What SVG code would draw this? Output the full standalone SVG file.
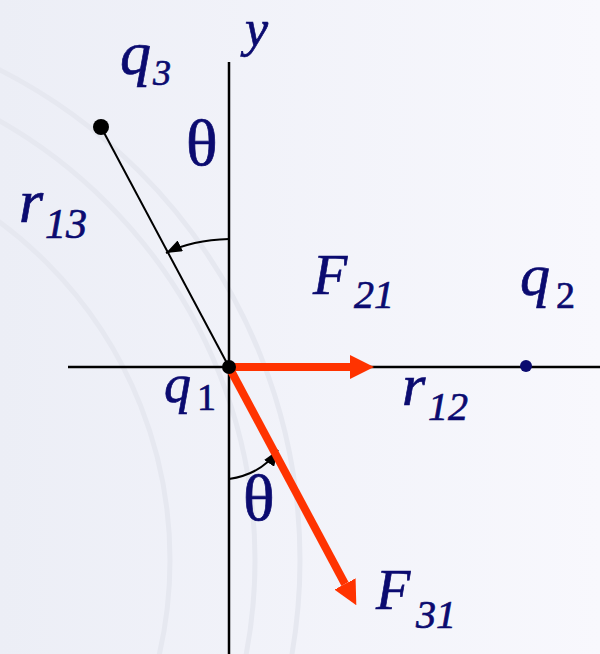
<svg xmlns="http://www.w3.org/2000/svg" width="600" height="654" viewBox="0 0 600 654">
  <defs>
    <linearGradient id="bg" x1="0" y1="0" x2="1" y2="0">
      <stop offset="0" stop-color="#eceef6"/>
      <stop offset="1" stop-color="#f8f8fd"/>
    </linearGradient>
    <marker id="blk" markerUnits="userSpaceOnUse" viewBox="0 0 16 12" markerWidth="16" markerHeight="12" refX="16" refY="6" orient="auto">
      <path d="M0,0 L16,6 L0,12 z" fill="#000"/>
    </marker>
    <marker id="red" markerUnits="userSpaceOnUse" viewBox="0 0 24 24" markerWidth="24" markerHeight="24" refX="0" refY="12" orient="auto">
      <path d="M0,0 L24,12 L0,24 z" fill="#ff3300"/>
    </marker>
  </defs>
  <style>
    .lbl { font-family: "Liberation Serif", "Times New Roman", serif; fill: #0b0b70; stroke: #0b0b70; stroke-width: 0.7; }
    .it { font-style: italic; }
    .ax { stroke: #000; stroke-width: 2.5; fill: none; }
    .thin { stroke: #000; stroke-width: 2; fill: none; }
    .force { stroke: #ff3300; stroke-width: 8; fill: none; }
    .wm { fill: none; stroke: #e6e8f0; stroke-width: 5; }
  </style>
  <rect x="0" y="0" width="600" height="654" fill="url(#bg)"/>
  <g id="watermark">
    <circle class="wm" cx="-250" cy="560" r="550"/>
    <circle class="wm" cx="-250" cy="560" r="505" stroke-width="3"/>
    <circle class="wm" cx="-250" cy="560" r="420" stroke-width="3"/>
  </g>
  <g id="connectors">
    <line class="ax" x1="229" y1="62" x2="229" y2="654"/>
    <line class="ax" x1="68" y1="367" x2="600" y2="367"/>
    <line class="thin" x1="101" y1="127" x2="229" y2="367"/>
    <path class="thin" d="M229,239 Q192,240 166,253" marker-end="url(#blk)"/>
    <path class="thin" d="M229,479 Q262,474 278,450" marker-end="url(#blk)"/>
    <line class="force" x1="229" y1="367" x2="350" y2="367" marker-end="url(#red)"/>
    <line class="force" x1="229" y1="367" x2="345" y2="584" marker-end="url(#red)"/>
  </g>
  <g id="q1"><circle cx="229" cy="367" r="7" fill="#000"/>
    <text class="lbl it" x="164" y="402" font-size="54">q</text><text class="lbl" x="197" y="410" font-size="38">1</text></g>
  <g id="q3"><circle cx="101" cy="127" r="8" fill="#000"/>
    <text class="lbl it" x="120" y="74" font-size="62">q</text><text class="lbl it" x="153" y="85" font-size="36">3</text></g>
  <g id="q2"><circle cx="526" cy="366" r="6" fill="#0b0b70"/>
    <text class="lbl it" x="520" y="295" font-size="60">q</text><text class="lbl" x="556" y="308" font-size="38">2</text></g>
  <g id="y-label"><text class="lbl it" x="245" y="46" font-size="52">y</text></g>
  <g id="theta-top"><text class="lbl" x="186" y="165" font-size="66">θ</text></g>
  <g id="theta-bottom"><text class="lbl" x="243" y="520" font-size="66">θ</text></g>
  <g id="r13"><text class="lbl it" x="19" y="222" font-size="62">r</text><text class="lbl it" x="45" y="238" font-size="42">13</text></g>
  <g id="r12"><text class="lbl it" x="402" y="405" font-size="60">r</text><text class="lbl it" x="428" y="420" font-size="40">12</text></g>
  <g id="F21"><text class="lbl it" x="313" y="294" font-size="56">F</text><text class="lbl it" x="354" y="308" font-size="40">21</text></g>
  <g id="F31"><text class="lbl it" x="376" y="609" font-size="56">F</text><text class="lbl it" x="416" y="628" font-size="40">31</text></g>
</svg>
